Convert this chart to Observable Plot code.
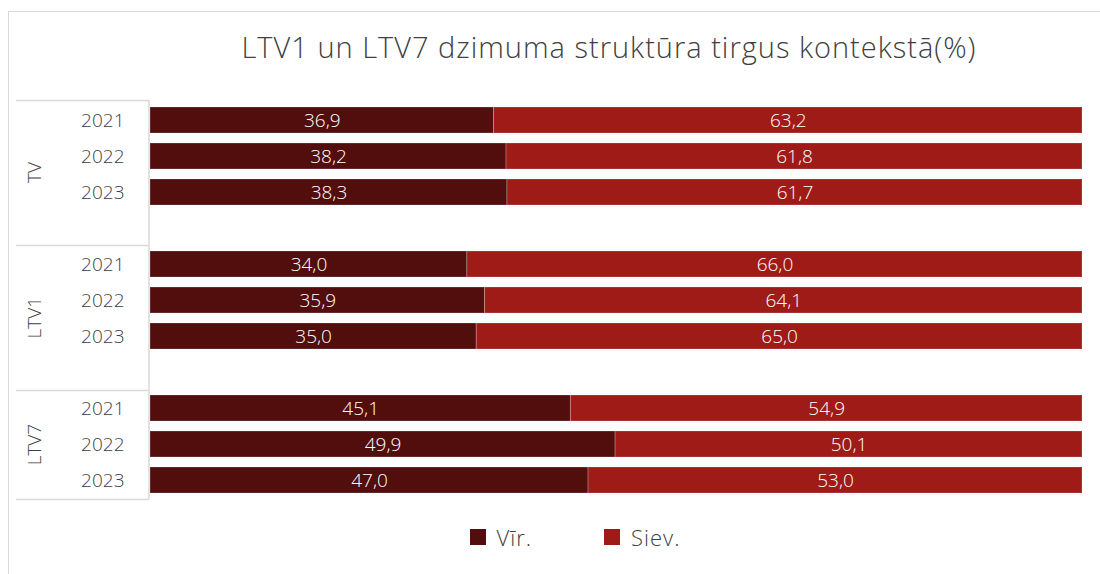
<!DOCTYPE html>
<html>
<head>
<meta charset="utf-8">
<script src="https://cdn.jsdelivr.net/npm/d3@7"></script>
<script src="https://cdn.jsdelivr.net/npm/@observablehq/plot@0.6"></script>
<style>
  html, body { margin: 0; padding: 0; background: #fff; }
  body { width: 1100px; height: 574px; position: relative; overflow: hidden; font-family: "Open Sans", sans-serif; }
  #frame { position: absolute; left: 8px; top: 11px; width: 1200px; height: 700px; border-top: 1.5px solid #d9d9d9; border-left: 1.5px solid #d9d9d9; }
  #title { position: absolute; left: 140px; width: 938px; top: 22px; height: 50px; line-height: 50px; text-align: center; font-size: 29px; letter-spacing: 1px; font-weight: 300; color: #404040; }
  #chart { position: absolute; left: 0; top: 90px; }
  #legend { position: absolute; left: 0; width: 1222px; top: 520px; display: flex; justify-content: center; }
  .lg-swatch { margin-right: 72px !important; }
</style>
</head>
<body>
<div id="frame"></div>
<div id="title">LTV1 un LTV7 dzimuma struktūra tirgus kontekstā(%)</div>
<div id="chart"></div>
<div id="legend"></div>
<script>
const groups = ["TV", "LTV1", "LTV7"];
const years = ["2021", "2022", "2023"];
const sexes = ["Vīr.", "Siev."];
const colors = ["#520d0d", "#9e1b18"];
const maleValues = {
  "TV":   [36.9, 38.2, 38.3],
  "LTV1": [34.0, 35.9, 35.0],
  "LTV7": [45.1, 49.9, 47.0]
};
const femaleValues = {
  "TV":   [63.2, 61.8, 61.7],
  "LTV1": [66.0, 64.1, 65.0],
  "LTV7": [54.9, 50.1, 53.0]
};

// category keys incl. blank separator slots (as in the multi-level category axis)
const keys = [];
groups.forEach((g, gi) => {
  years.forEach(y => keys.push(g + "|" + y));
  if (gi < groups.length - 1) keys.push("gap" + gi);
});
const yearKeys = keys.filter(k => k.includes("|"));

const rows = [];
groups.forEach(g => years.forEach((y, i) => {
  rows.push({key: g + "|" + y, sex: sexes[0], value: maleValues[g][i]});
  rows.push({key: g + "|" + y, sex: sexes[1], value: femaleValues[g][i]});
}));

const fmt = v => v.toFixed(1).replace(".", ",");
const textColor = "#404040";
const gridColor = "#d9d9d9";

const plot = Plot.plot({
  width: 1100,
  height: 420,
  marginTop: 10,
  marginBottom: 11,
  marginLeft: 150,
  marginRight: 18,
  style: {fontFamily: "Open Sans, sans-serif", background: "transparent"},
  x: {axis: null},
  y: {domain: keys, paddingInner: 0.28, paddingOuter: 0.14},
  color: {domain: sexes, range: colors},
  marks: [
    Plot.ruleX([0], {stroke: gridColor, strokeWidth: 1.5, dx: -1.5}),
    Plot.barX(rows, Plot.stackX({
      x: "value", y: "key", fill: "sex", offset: "normalize",
      stroke: "#fff", strokeOpacity: 0.3, strokeWidth: 0.8
    })),
    Plot.text(rows, Plot.stackX({
      x: "value", y: "key", z: "sex", offset: "normalize",
      text: d => fmt(d.value), fill: "#fff", fontSize: 19, fontWeight: 300, letterSpacing: 0.5
    })),
    Plot.axisY(yearKeys, {
      tickSize: 0, tickPadding: 26, label: null,
      tickFormat: d => d.split("|")[1],
      fontSize: 19, fill: textColor, fontWeight: 300
    })
  ]
});

// group separators and rotated group labels, from the band scale
const ys = plot.scale("y");
const r0 = ys.range[0], r1 = ys.range[1];
const step = (r1 - r0) / keys.length;
const svg = d3.select(plot);
const boundaries = [0];
groups.forEach((g, gi) => {
  const start = keys.indexOf(g + "|" + years[0]);
  const end = gi < groups.length - 1 ? keys.indexOf("gap" + gi) + 1 : keys.length;
  boundaries.push(end);
  const mid = r0 + step * (start + end) / 2;
  svg.append("text")
    .attr("transform", `translate(41,${mid}) rotate(-90)`)
    .attr("text-anchor", "middle")
    .attr("font-size", 19)
    .attr("font-weight", 300)
    .attr("fill", textColor)
    .text(g);
});
boundaries.forEach(b => {
  const yy = Math.round(r0 + step * b) + 0.5;
  svg.append("line")
    .attr("x1", 16).attr("x2", 149)
    .attr("y1", yy).attr("y2", yy)
    .attr("stroke", gridColor).attr("stroke-width", 1.5);
});

document.getElementById("chart").appendChild(plot);

const legend = Plot.legend({
  color: {domain: sexes, range: colors},
  legend: "swatches",
  swatchSize: 16,
  className: "lg",
  style: {fontSize: "22px", fontFamily: "Open Sans, sans-serif", color: textColor, fontWeight: 300, letterSpacing: "1px"}
});
document.getElementById("legend").appendChild(legend);
</script>
</body>
</html>
